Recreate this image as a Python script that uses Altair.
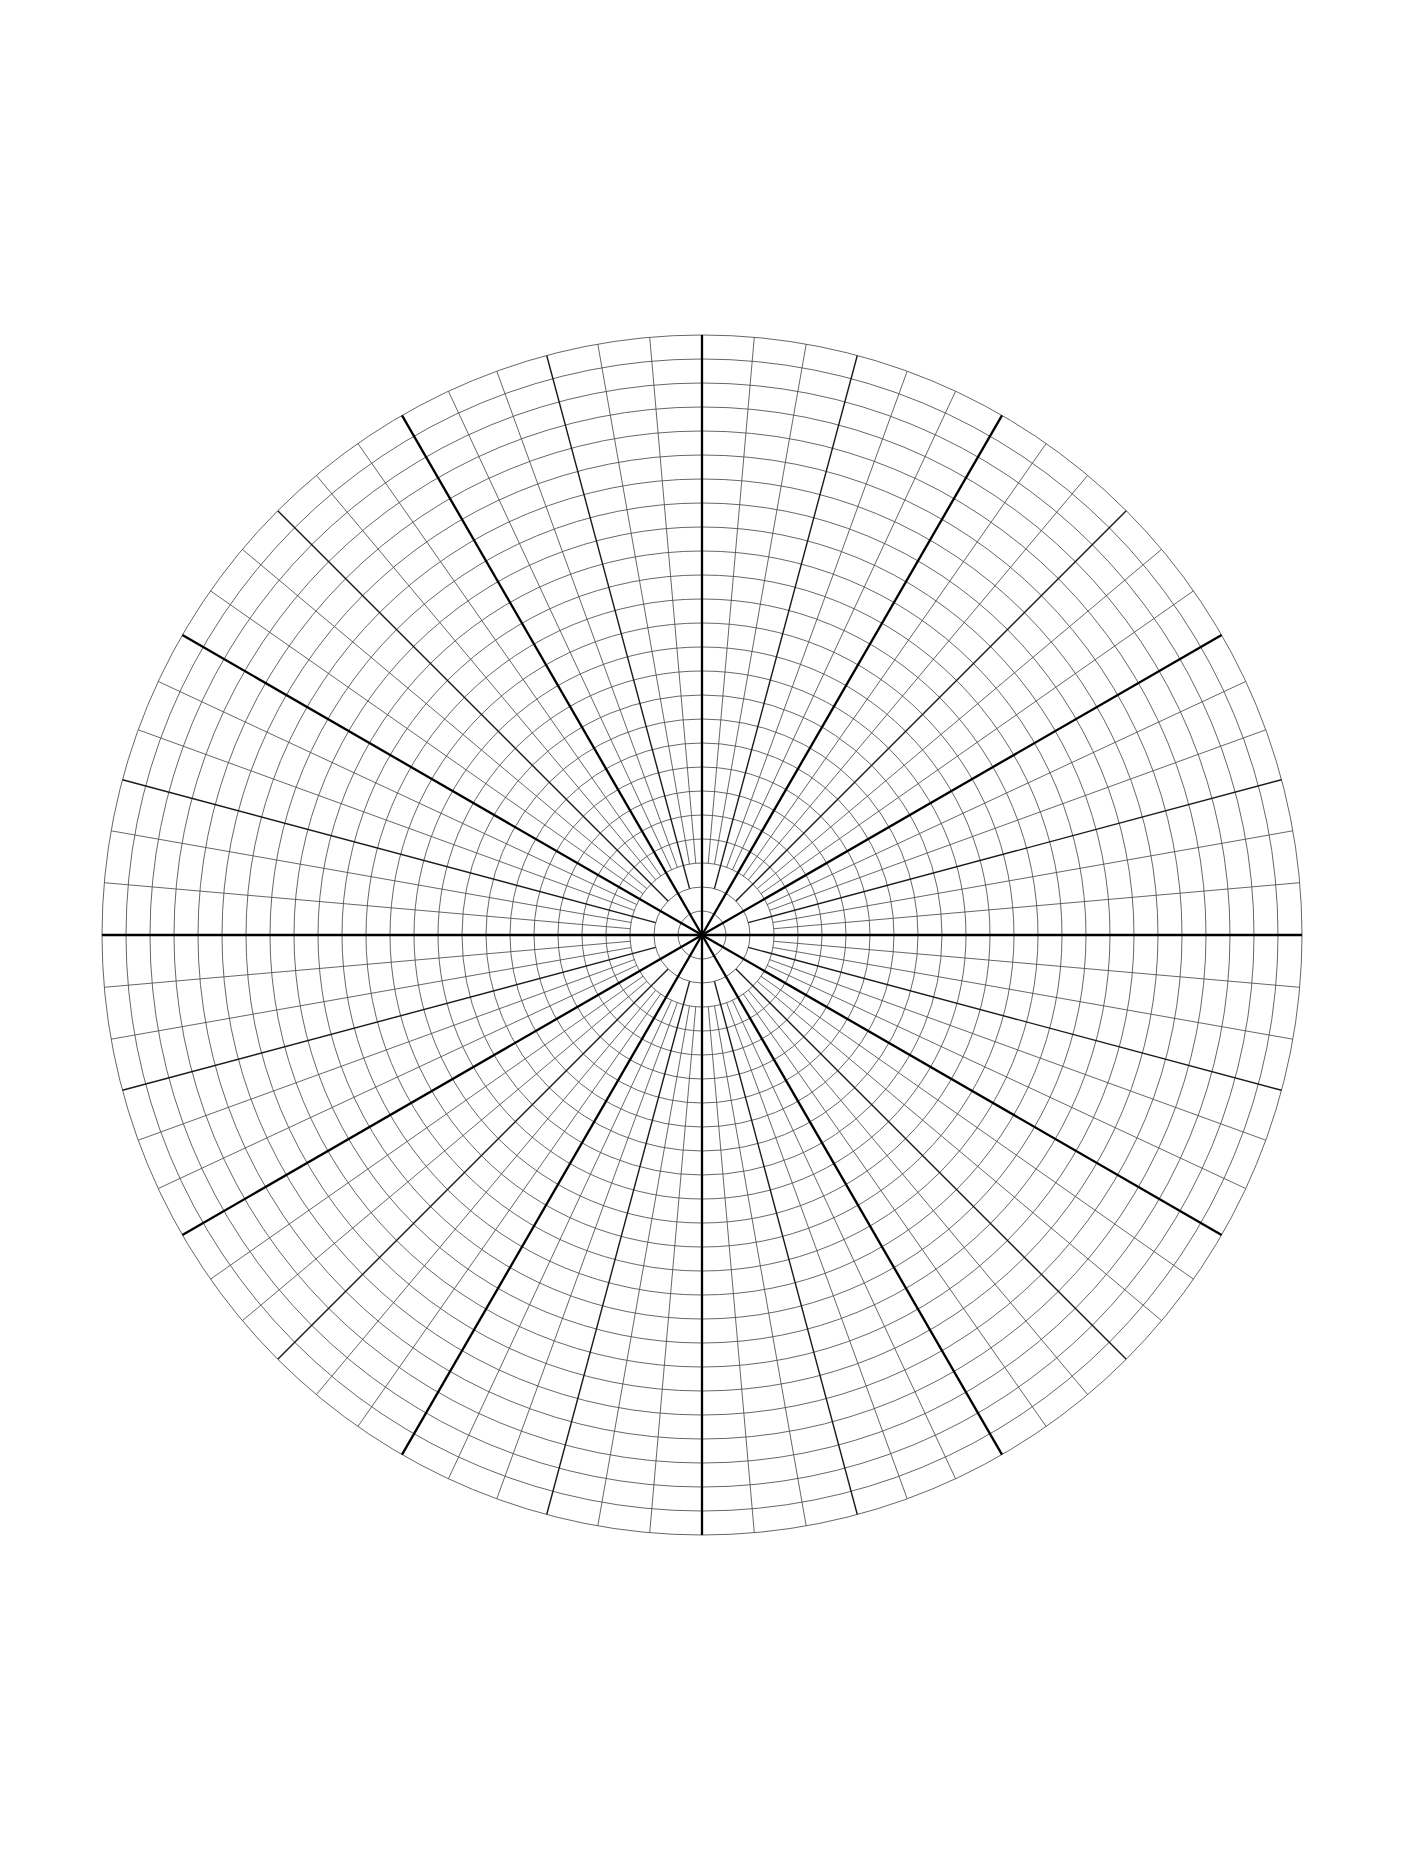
import altair as alt
import pandas as pd

# Concentric circle radii (grid units; outer edge = 25)
circle_radii = [1, 2, 3, 4, 5, 6, 7, 8, 9, 10, 11, 12, 13, 14, 15, 16, 17, 18, 19, 20,
                21, 22, 23, 24, 25]

# Spoke angles (degrees clockwise from vertical)
thick_angles = [0, 30, 60, 90, 120, 150, 180, 210, 240, 270, 300, 330]
medium_angles = [15, 45, 75, 105, 135, 165, 195, 225, 255, 285, 315, 345]
thin_angles = [5, 10, 20, 25, 35, 40, 50, 55, 65, 70, 80, 85,
               95, 100, 110, 115, 125, 130, 140, 145, 155, 160, 170, 175,
               185, 190, 200, 205, 215, 220, 230, 235, 245, 250, 260, 265,
               275, 280, 290, 295, 305, 310, 320, 325, 335, 340, 350, 355]

# Start radius of each spoke family (grid units)
thick_start = 0
medium_start = 2
thin_start = 3
outer = 25

R = 25
PX = 600  # plot radius in pixels
xs = alt.Scale(domain=[-R, R], nice=False, zero=False)
ys = alt.Scale(domain=[-R, R], nice=False, zero=False)

circ_df = pd.DataFrame({"r": circle_radii, "cx": [0] * len(circle_radii), "cy": [0] * len(circle_radii)})
circles = alt.Chart(circ_df).mark_point(
    shape="circle", filled=False, stroke="#555555", strokeWidth=0.9, opacity=1
).encode(
    x=alt.X("cx:Q", scale=xs, axis=None),
    y=alt.Y("cy:Q", scale=ys, axis=None),
    size=alt.Size("r:Q", scale=alt.Scale(type="pow", exponent=2, domain=[0, R],
                                         range=[0, (2 * PX) ** 2]), legend=None),
)


def spokes(angles, r0, color, width):
    df = pd.DataFrame({"angle": angles, "r0": [r0] * len(angles), "r1": [outer] * len(angles)})
    return alt.Chart(df).transform_calculate(
        xa="datum.r0 * sin(datum.angle * PI / 180)",
        ya="datum.r0 * cos(datum.angle * PI / 180)",
        xb="datum.r1 * sin(datum.angle * PI / 180)",
        yb="datum.r1 * cos(datum.angle * PI / 180)",
    ).mark_rule(color=color, strokeWidth=width).encode(
        x=alt.X("xa:Q", scale=xs, axis=None),
        y=alt.Y("ya:Q", scale=ys, axis=None),
        x2=alt.X2("xb"),
        y2=alt.Y2("yb"),
    )


thin = spokes(thin_angles, thin_start, "#555555", 0.9)
medium = spokes(medium_angles, medium_start, "#1a1a1a", 1.4)
thick = spokes(thick_angles, thick_start, "#000000", 2.3)

chart = alt.layer(circles, thin, medium, thick).properties(
    width=1200,
    height=1200,
    padding={"left": 92, "top": 325, "right": 0, "bottom": 0},
).configure_view(stroke=None)

chart.save("out.html", embed_options={"renderer": "svg", "actions": False})
